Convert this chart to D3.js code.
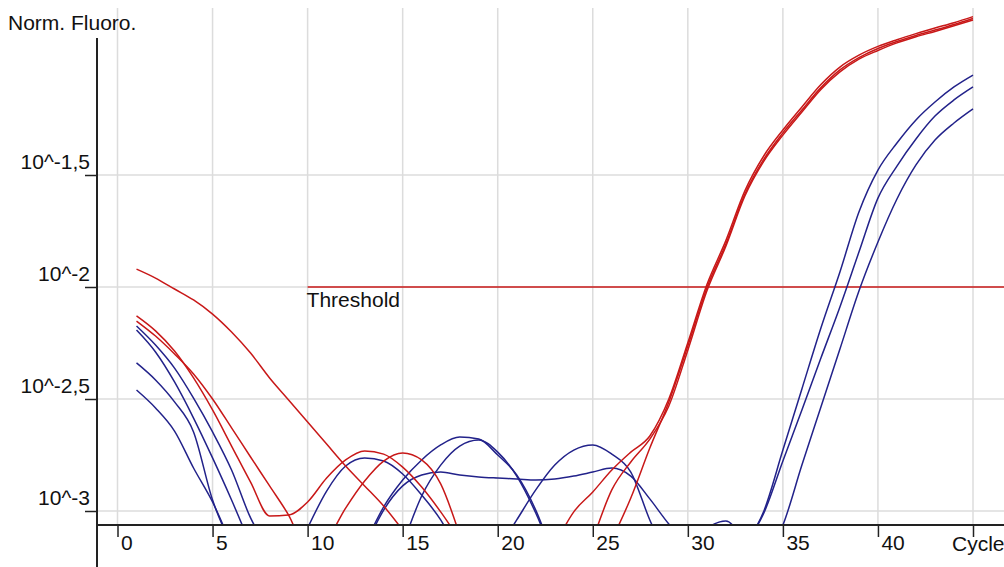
<!DOCTYPE html>
<html>
<head>
<meta charset="utf-8">
<script src="https://cdn.jsdelivr.net/npm/d3@7"></script>
<style>
  body { margin: 0; background: #fff; }
  svg { display: block; font-family: "Liberation Sans", Arial, sans-serif; }
</style>
</head>
<body>
<script>
// Valores: log10 de la fluorescencia normalizada, un valor por ciclo (1..45).
// null = la curva está fuera (debajo) del área visible.
const rojoA = [-1.920, -1.960, -2.009, -2.058, -2.121, -2.201, -2.295, -2.406, -2.504, -2.603,
  -2.701, -2.799, -2.888, -2.978, -3.085, null, null, null, null, null,
  null, null, null, null, null, -3.129, -2.942, -2.719, -2.513, -2.263,
  -2.004, -1.808, -1.585, -1.429, -1.312, -1.210, -1.110, -1.031, -0.976, -0.935,
  -0.904, -0.877, -0.853, -0.828, -0.801];
const rojoB = [-2.129, -2.196, -2.286, -2.406, -2.549, -2.710, -2.871, -3.022, -3.018, -2.960,
  -2.853, -2.772, -2.732, -2.746, -2.804, -2.893, -3.004, -3.129, null, null,
  null, null, -3.152, -3.004, -2.915, -2.817, -2.737, -2.665, -2.500, -2.249,
  -1.990, -1.793, -1.571, -1.414, -1.299, -1.196, -1.096, -1.018, -0.965, -0.926,
  -0.896, -0.869, -0.844, -0.820, -0.793];
const rojoC = [-2.152, -2.219, -2.299, -2.388, -2.500, -2.629, -2.759, -2.888, -3.018, -3.174,
  -3.129, -2.987, -2.866, -2.777, -2.741, -2.772, -2.879, -3.107, null, null,
  null, null, null, null, -3.129, -2.906, -2.781, -2.679, -2.531, -2.282,
  -2.018, -1.818, -1.594, -1.438, -1.322, -1.219, -1.118, -1.040, -0.983, -0.944,
  -0.910, -0.883, -0.859, -0.834, -0.808];
const azulA = [-2.174, -2.259, -2.362, -2.496, -2.647, -2.817, -3.031, -3.174, null, null,
  null, null, -3.152, -2.982, -2.862, -2.772, -2.705, -2.670, -2.679, -2.750,
  -2.839, -2.996, -3.219, null, null, null, null, null, null, null,
  null, null, -3.152, -3.000, -2.728, -2.455, -2.183, -1.933, -1.665, -1.478,
  -1.357, -1.254, -1.174, -1.107, -1.054];
const azulB = [-2.192, -2.290, -2.424, -2.585, -2.763, -2.951, -3.152, null, null, null,
  null, null, null, null, -3.152, -2.933, -2.795, -2.710, -2.683, -2.737,
  -2.844, -3.009, -3.219, null, null, null, null, null, null, null,
  null, null, -3.152, -3.009, -2.777, -2.549, -2.317, -2.089, -1.844, -1.603,
  -1.460, -1.339, -1.237, -1.165, -1.107];
const azulC = [-2.339, -2.415, -2.513, -2.647, -2.951, -3.152, null, null, null, -3.076,
  -2.911, -2.799, -2.763, -2.777, -2.835, -2.929, -3.040, -3.196, null, -3.174,
  -3.040, -2.906, -2.795, -2.728, -2.705, -2.746, -2.826, -3.040, -3.219, null,
  null, null, null, -3.219, -3.063, -2.795, -2.536, -2.277, -2.018, -1.799,
  -1.607, -1.455, -1.344, -1.268, -1.205];
const azulD = [-2.460, -2.540, -2.643, -2.808, -2.960, -3.152, null, null, null, null,
  null, null, -3.165, -2.996, -2.888, -2.839, -2.826, -2.839, -2.848, -2.853,
  -2.857, -2.862, -2.857, -2.844, -2.826, -2.808, -2.844, -2.946, -3.058, -3.152,
  -3.076, -3.045, -3.152, null, null, null, null, null, null, null,
  null, null, null, null, null];

const ticksX = [0, 5, 10, 15, 20, 25, 30, 35, 40, 45];
const etiquetasX = ["0", "5", "10", "15", "20", "25", "30", "35", "40", ""];
const ticksY = [-3, -2.5, -2, -1.5];
const etiquetasY = ["10^-3", "10^-2,5", "10^-2", "10^-1,5"];
const UMBRAL = -2;          // Threshold
const UMBRAL_DESDE = 10;    // ciclo donde empieza la línea

const ROJO = "#c81818";
const AZUL = "#22228a";

const series = [
  { nombre: "azulA", color: AZUL, valores: azulA },
  { nombre: "azulB", color: AZUL, valores: azulB },
  { nombre: "azulC", color: AZUL, valores: azulC },
  { nombre: "azulD", color: AZUL, valores: azulD },
  { nombre: "rojoA", color: ROJO, valores: rojoA },
  { nombre: "rojoB", color: ROJO, valores: rojoB },
  { nombre: "rojoC", color: ROJO, valores: rojoC },
];

// Constantes del dibujo.
const WIDTH = 1004;
const HEIGHT = 567;
const EJE_X = 97;      // posición x del eje vertical
const EJE_Y = 525;     // posición y del eje horizontal
const TOPE = 8;        // borde superior de la grilla
const FUENTE = 21;

const svg = d3.select("body")
  .append("svg")
  .attr("width", WIDTH)
  .attr("height", HEIGHT);

// Escalas
const escalaX = d3.scaleLinear()
  .domain([0, 45])
  .range([117.5, 973]);

const escalaY = d3.scaleLinear()
  .domain([-3, -2])
  .range([511, 287]);

// Grilla
const grilla = svg.append("g");
grilla.selectAll("line.vx")
  .data(ticksX)
  .join("line")
  .attr("x1", d => escalaX(d))
  .attr("x2", d => escalaX(d))
  .attr("y1", TOPE)
  .attr("y2", EJE_Y)
  .attr("stroke", "#dcdcdc")
  .attr("stroke-width", 1.5);
grilla.selectAll("line.hy")
  .data(ticksY)
  .join("line")
  .attr("x1", EJE_X)
  .attr("x2", WIDTH)
  .attr("y1", d => escalaY(d))
  .attr("y2", d => escalaY(d))
  .attr("stroke", "#dcdcdc")
  .attr("stroke-width", 1.5);

// Recorte del área de datos
svg.append("clipPath")
  .attr("id", "area")
  .append("rect")
  .attr("x", EJE_X)
  .attr("y", 0)
  .attr("width", WIDTH - EJE_X)
  .attr("height", EJE_Y);

const contenedorVis = svg.append("g").attr("clip-path", "url(#area)");

// Línea de umbral
contenedorVis.append("line")
  .attr("x1", escalaX(UMBRAL_DESDE))
  .attr("x2", WIDTH)
  .attr("y1", escalaY(UMBRAL))
  .attr("y2", escalaY(UMBRAL))
  .attr("stroke", ROJO)
  .attr("stroke-width", 1.5);

const linea = d3.line()
  .defined(d => d.v !== null)
  .x(d => escalaX(d.c))
  .y(d => escalaY(d.v))
  .curve(d3.curveMonotoneX);

contenedorVis.selectAll("path.curva")
  .data(series)
  .join("path")
  .attr("class", "curva")
  .attr("fill", "none")
  .attr("stroke", d => d.color)
  .attr("stroke-width", 1.5)
  .attr("d", d => linea(d.valores.map((v, i) => ({ c: i + 1, v: v }))));

svg.append("text")
  .attr("x", escalaX(UMBRAL_DESDE) - 1)
  .attr("y", escalaY(UMBRAL) + 20)
  .attr("font-size", FUENTE)
  .attr("fill", "#111")
  .text("Threshold");

// Eje X
const ejeX = d3.axisBottom(escalaX)
  .tickValues(ticksX)
  .tickFormat((d, i) => etiquetasX[i])
  .tickSize(12);

svg.append("g")
  .attr("transform", `translate(0, ${EJE_Y})`)
  .call(ejeX)
  .call(g => g.select(".domain").remove())
  .call(g => g.selectAll(".tick line").attr("stroke", "#222").attr("stroke-width", 1.5))
  .call(g => g.selectAll(".tick text")
    .attr("font-size", FUENTE)
    .attr("font-family", "Liberation Sans, Arial, sans-serif")
    .attr("fill", "#111")
    .attr("text-anchor", "start")
    .attr("x", 3)
    .attr("y", 25)
    .attr("dy", 0));

svg.append("line")
  .attr("x1", EJE_X)
  .attr("x2", WIDTH)
  .attr("y1", EJE_Y)
  .attr("y2", EJE_Y)
  .attr("stroke", "#222")
  .attr("stroke-width", 2);

// Eje Y
const ejeY = d3.axisLeft(escalaY)
  .tickValues(ticksY)
  .tickFormat((d, i) => etiquetasY[i])
  .tickSize(12);

svg.append("g")
  .attr("transform", `translate(${EJE_X}, 0)`)
  .call(ejeY)
  .call(g => g.select(".domain").remove())
  .call(g => g.selectAll(".tick line").attr("stroke", "#222").attr("stroke-width", 1.5))
  .call(g => g.selectAll(".tick text")
    .attr("font-size", FUENTE)
    .attr("font-family", "Liberation Sans, Arial, sans-serif")
    .attr("fill", "#111")
    .attr("x", -7)
    .attr("dy", -7));

svg.append("line")
  .attr("x1", EJE_X)
  .attr("x2", EJE_X)
  .attr("y1", 38)
  .attr("y2", HEIGHT)
  .attr("stroke", "#222")
  .attr("stroke-width", 2);

// Títulos de los ejes
svg.append("text")
  .attr("x", 8)
  .attr("y", 30)
  .attr("font-size", FUENTE)
  .attr("fill", "#111")
  .text("Norm. Fluoro.");

svg.append("text")
  .attr("x", 952)
  .attr("y", 551)
  .attr("font-size", FUENTE)
  .attr("fill", "#111")
  .text("Cycle");
</script>
</body>
</html>
